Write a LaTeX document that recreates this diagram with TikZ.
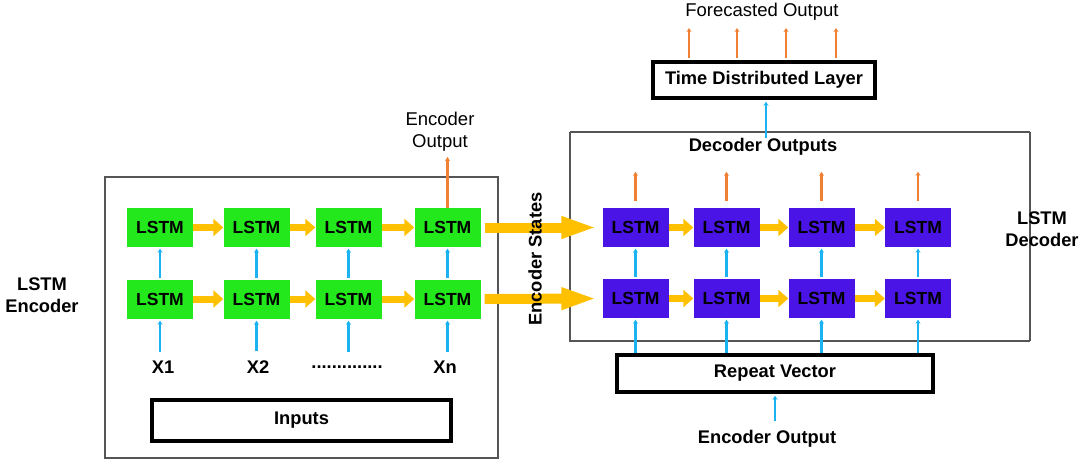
\documentclass[tikz,border=0pt]{standalone}
\usepackage{fontspec}
\setmainfont{Liberation Sans}
\usetikzlibrary{arrows.meta}
\definecolor{lgreen}{HTML}{22E81C}
\definecolor{lpurple}{HTML}{4A14E6}
\definecolor{lyellow}{HTML}{FFC000}
\definecolor{lblue}{HTML}{1AB2F0}
\definecolor{lorange}{HTML}{F08033}
\definecolor{frame}{HTML}{555555}
\tikzset{
  lstmE/.style={fill=lgreen, draw=none, minimum width=66pt, minimum height=39pt, inner sep=0pt, font=\fontsize{17.5}{20}\selectfont\bfseries},
  lstmD/.style={fill=lpurple, draw=none, minimum width=66pt, minimum height=39pt, inner sep=0pt, font=\fontsize{17.5}{20}\selectfont\bfseries},
  lbl/.style={font=\fontsize{18.3}{22}\selectfont\bfseries, inner sep=0pt, align=center},
  rlbl/.style={font=\fontsize{18.5}{22}\selectfont, inner sep=0pt, align=center},
  thickbox/.style={draw=black, line width=3.5pt, inner sep=0pt, font=\fontsize{18.3}{22}\selectfont\bfseries},
  yarrow/.style={draw=lyellow, line width=7pt, -{Triangle[length=10pt,width=17pt]}},
  bigyarrow/.style={draw=lyellow, line width=10pt, -{Triangle[length=36pt,width=20pt]}},
  barrow/.style={draw=lblue, line width=2.5pt, -{Stealth[length=4pt,width=5pt]}},
  oarrow/.style={draw=lorange, line width=2.5pt, -{Stealth[length=4pt,width=5pt]}},
  group/.style={draw=frame, line width=1.5pt}
}
\begin{document}
\begin{tikzpicture}[x=1pt,y=-1pt]
\useasboundingbox (0,0) rectangle (1079,474);
% group frames
\draw[group] (105,177) rectangle (498,458);
\draw[group] (570,132) -- (1030,132);
\draw[group] (570,132) -- (570,341) -- (1030,341);
\draw[group] (1030,132) -- (1030,341);

% encoder LSTMs
\foreach \i/\x in {1/160,2/256.5,3/348.5,4/447.5}{
  \node[lstmE] (e1\i) at (\x,227.5) {LSTM};
  \node[lstmE] (e2\i) at (\x,299) {LSTM};
}
% decoder LSTMs
\foreach \i/\x in {1/635.5,2/726.5,3/821.5,4/918}{
  \node[lstmD] (d1\i) at (\x,227.5) {LSTM};
  \node[lstmD] (d2\i) at (\x,298.5) {LSTM};
}

% inputs labels
\node[lbl] (x1) at (163,367) {X1};
\node[lbl] (x2) at (258,367) {X2};
\node[lbl] (xd) at (347,367) {..............};
\node[lbl] (xn) at (445,367) {Xn};
\node[thickbox, minimum width=299pt, minimum height=41pt] (inputs) at (301.5,420.5) {Inputs};

% side labels
\node[lbl] (encl) at (42,295) {LSTM\\Encoder};
\node[lbl] (decl) at (1042,229) {LSTM\\Decoder};
\node[rlbl] (encout) at (440,132) {Encoder\\Output};
\node[lbl] (decout) at (763,147) {Decoder Outputs};
\node[thickbox, minimum width=316pt, minimum height=37pt] (repeat) at (775,373.5) {Repeat Vector};
\node[lbl] (encout2) at (767,439) {Encoder Output};
\node[thickbox, minimum width=222pt, minimum height=36pt] (tdl) at (764,80) {Time Distributed Layer};
\node[rlbl] (fore) at (762,12) {Forecasted Output};

% encoder horizontal arrows
\foreach \r in {1,2}{
  \draw[yarrow] (e\r1.east) -- (e\r2.west);
  \draw[yarrow] (e\r2.east) -- (e\r3.west);
  \draw[yarrow] (e\r3.east) -- (e\r4.west);
  \draw[yarrow] (d\r1.east) -- (d\r2.west);
  \draw[yarrow] (d\r2.east) -- (d\r3.west);
  \draw[yarrow] (d\r3.east) -- (d\r4.west);
  \draw[bigyarrow, shorten <=4pt, shorten >=5pt] (e\r4.east) -- (d\r1.west);
}
\node[lbl, rotate=90] (states) at (535,259) {Encoder States};

% encoder vertical arrows
\foreach \i in {1,2,3,4}{
  \draw[barrow, shorten <=1.5pt, shorten >=1.5pt] (e2\i.north) -- (e1\i.south);
}
\draw[barrow, shorten >=2pt] ([yshift=9pt]x1.north -| e21.south) -- (e21.south);
\draw[barrow, shorten >=2pt] ([yshift=9pt]x2.north -| e22.south) -- (e22.south);
\draw[barrow, shorten >=2pt] ([yshift=9pt]x1.north -| e23.south) -- (e23.south);
\draw[barrow, shorten >=2pt] ([yshift=9pt]xn.north -| e24.south) -- (e24.south);
\coordinate (eotip) at (e14.north |- 0,157);
\draw[oarrow] (e14.north) -- (eotip);

% decoder vertical arrows
\foreach \i in {1,2,3,4}{
  \draw[barrow, shorten <=1.5pt, shorten >=1.5pt] (d2\i.north) -- (d1\i.south);
  \draw[barrow, shorten >=1.5pt] (repeat.north -| d2\i.south) -- (d2\i.south);
  \coordinate (do\i) at ([yshift=36pt]d1\i.north);
  \draw[oarrow, shorten <=7pt] (d1\i.north) -- (do\i);
}
\draw[barrow, shorten <=9pt, shorten >=2pt] (encout2.north -| repeat.south) -- (repeat.south);
\coordinate (tdlin) at (766,138);
\draw[barrow, shorten >=2pt] (tdlin) -- (tdlin |- tdl.south);

% forecasted output arrows
\foreach \x in {689,737,786,836}{
  \coordinate (fo\x) at (\x,28);
  \draw[oarrow, shorten <=2pt] (fo\x |- tdl.north) -- (fo\x);
}
\end{tikzpicture}
\end{document}
